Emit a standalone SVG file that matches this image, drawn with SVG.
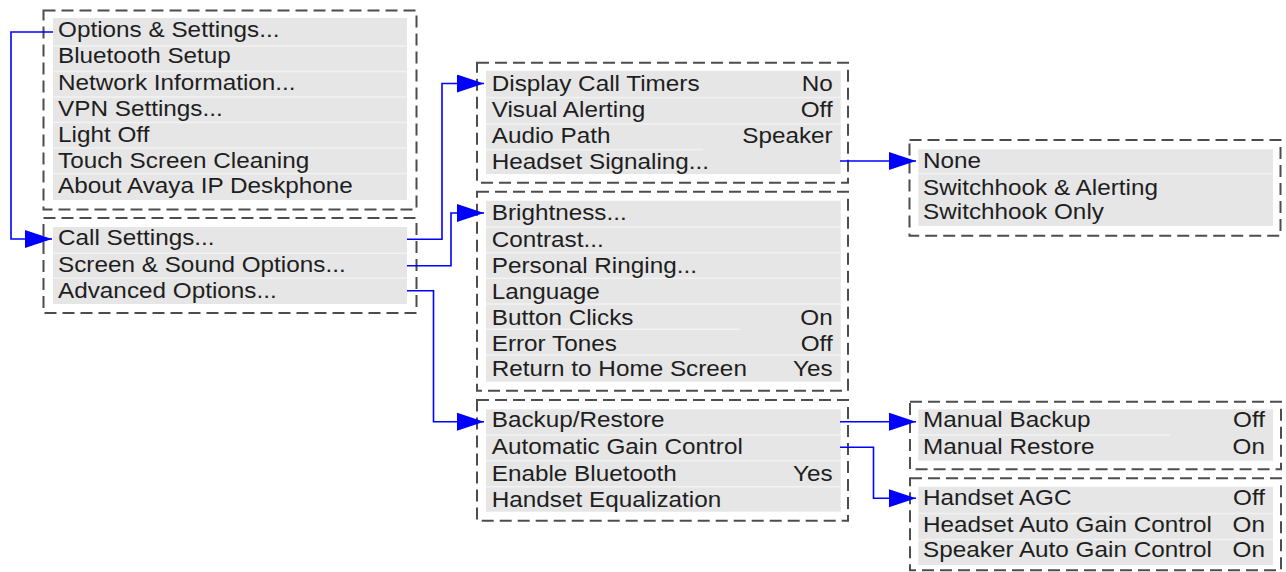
<svg xmlns="http://www.w3.org/2000/svg" width="1286" height="572" viewBox="0 0 1286 572">
<style>
.frame{fill:none;stroke:#4d4d4d;stroke-width:2;stroke-dasharray:12 6}
.panel{fill:#e6e6e6}
.sep{stroke:#f2f2f2;stroke-width:1.5}
text{font-family:"Liberation Sans",Arial,sans-serif;font-size:21.5px;fill:#1e1e1e}
.r{text-anchor:end}
.conn{fill:none;stroke:#0000ff;stroke-width:1.6;marker-end:url(#arr)}
</style>
<defs>
<marker id="arr" markerUnits="userSpaceOnUse" markerWidth="28" markerHeight="20" refX="27" refY="9" orient="auto">
<path d="M0,0 L27,9 L0,18 z" fill="#0000ff"/>
</marker>
</defs>
<rect width="1286" height="572" fill="#ffffff"/>

<g id="options-menu">
<rect class="panel" x="53" y="18" width="354" height="182"/>
<path class="sep" d="M53,46H407M53,71.5H407M53,97H407M53,122.5H407M53,148H407M53,173.5H407"/>
<rect class="frame" x="43.5" y="10.5" width="373" height="199"/>
<text transform="translate(58,37) scale(1.13,1)">Options &amp; Settings...</text>
<text transform="translate(58,63) scale(1.13,1)">Bluetooth Setup</text>
<text transform="translate(58,89.5) scale(1.13,1)">Network Information...</text>
<text transform="translate(58,115.5) scale(1.13,1)">VPN Settings...</text>
<text transform="translate(58,141.5) scale(1.13,1)">Light Off</text>
<text transform="translate(58,167.5) scale(1.13,1)">Touch Screen Cleaning</text>
<text transform="translate(58,193) scale(1.13,1)">About Avaya IP Deskphone</text>
</g>

<g id="options-settings">
<rect class="panel" x="53" y="227" width="354" height="77"/>
<path class="sep" d="M53,253.3H407M53,278.3H407"/>
<rect class="frame" x="43.5" y="218" width="373" height="95"/>
<text transform="translate(58,245) scale(1.13,1)">Call Settings...</text>
<text transform="translate(58,271.5) scale(1.13,1)">Screen &amp; Sound Options...</text>
<text transform="translate(58,298) scale(1.13,1)">Advanced Options...</text>
</g>

<g id="call-settings">
<rect class="panel" x="486" y="70.7" width="354.7" height="103.3"/>
<path class="sep" d="M486,97.5H840.7M486,124H840.7M486,149.5H703"/>
<rect class="frame" x="477" y="62.7" width="371" height="120"/>
<text transform="translate(491.7,90.7) scale(1.13,1)">Display Call Timers</text>
<text class="r" transform="translate(832.7,90.7) scale(1.13,1)">No</text>
<text transform="translate(491.7,116.7) scale(1.13,1)">Visual Alerting</text>
<text class="r" transform="translate(832.7,116.7) scale(1.13,1)">Off</text>
<text transform="translate(491.7,143) scale(1.13,1)">Audio Path</text>
<text class="r" transform="translate(832.7,143) scale(1.13,1)">Speaker</text>
<text transform="translate(491.7,169.3) scale(1.13,1)">Headset Signaling...</text>
</g>

<g id="screen-sound">
<rect class="panel" x="486" y="200.7" width="354.7" height="181"/>
<path class="sep" d="M486,227H840.7M486,252.7H840.7M486,278.3H840.7M486,304H840.7M486,329.3H740M486,355H840.7"/>
<rect class="frame" x="477" y="191.7" width="371" height="199"/>
<text transform="translate(491.7,220) scale(1.13,1)">Brightness...</text>
<text transform="translate(491.7,246.5) scale(1.13,1)">Contrast...</text>
<text transform="translate(491.7,273) scale(1.13,1)">Personal Ringing...</text>
<text transform="translate(491.7,298.5) scale(1.13,1)">Language</text>
<text transform="translate(491.7,325) scale(1.13,1)">Button Clicks</text>
<text class="r" transform="translate(832.7,325) scale(1.13,1)">On</text>
<text transform="translate(491.7,350.5) scale(1.13,1)">Error Tones</text>
<text class="r" transform="translate(832.7,350.5) scale(1.13,1)">Off</text>
<text transform="translate(491.7,376) scale(1.13,1)">Return to Home Screen</text>
<text class="r" transform="translate(832.7,376) scale(1.13,1)">Yes</text>
</g>

<g id="advanced-options">
<rect class="panel" x="486" y="409.3" width="354.7" height="102.4"/>
<path class="sep" d="M486,435H840.7M486,460.7H840.7M486,486.7H840.7"/>
<rect class="frame" x="477" y="400" width="371" height="120.7"/>
<text transform="translate(491.7,426.7) scale(1.13,1)">Backup/Restore</text>
<text transform="translate(491.7,454) scale(1.13,1)">Automatic Gain Control</text>
<text transform="translate(491.7,480.7) scale(1.13,1)">Enable Bluetooth</text>
<text class="r" transform="translate(832.7,480.7) scale(1.13,1)">Yes</text>
<text transform="translate(491.7,506.7) scale(1.13,1)">Handset Equalization</text>
</g>

<g id="headset-signaling">
<rect class="panel" x="918.3" y="149.3" width="354.7" height="76.7"/>
<path class="sep" d="M918.3,173.5H1273"/>
<rect class="frame" x="909.5" y="140" width="371" height="95.7"/>
<text transform="translate(923,168.3) scale(1.13,1)">None</text>
<text transform="translate(923,194.5) scale(1.13,1)">Switchhook &amp; Alerting</text>
<text transform="translate(923,219) scale(1.13,1)">Switchhook Only</text>
</g>

<g id="backup-restore">
<rect class="panel" x="918.3" y="409.3" width="354.7" height="51.4"/>
<path class="sep" d="M918.3,435H1170"/>
<rect class="frame" x="910" y="401.7" width="371" height="67.6"/>
<text transform="translate(923,426.7) scale(1.13,1)">Manual Backup</text>
<text class="r" transform="translate(1265,426.7) scale(1.13,1)">Off</text>
<text transform="translate(923,454) scale(1.13,1)">Manual Restore</text>
<text class="r" transform="translate(1265,454) scale(1.13,1)">On</text>
</g>

<g id="automatic-gain-control">
<rect class="panel" x="918.3" y="486.7" width="354.7" height="78.3"/>
<path class="sep" d="M918.3,513.5H1273M918.3,539.5H1273"/>
<rect class="frame" x="910" y="478.3" width="371" height="92"/>
<text transform="translate(923,505) scale(1.13,1)">Handset AGC</text>
<text class="r" transform="translate(1265,505) scale(1.13,1)">Off</text>
<text transform="translate(923,531.7) scale(1.13,1)">Headset Auto Gain Control</text>
<text class="r" transform="translate(1265,531.7) scale(1.13,1)">On</text>
<text transform="translate(923,556.7) scale(1.13,1)">Speaker Auto Gain Control</text>
<text class="r" transform="translate(1265,556.7) scale(1.13,1)">On</text>
</g>

<g id="connectors">
<path class="conn" d="M53,32H11V239H52" stroke="#4d4dff"/>
<path class="conn" d="M407,239.3H442V83.5H484"/>
<path class="conn" d="M407,265.7H451V213H484"/>
<path class="conn" d="M407,290.7H433.5V421.7H484"/>
<path class="conn" d="M840,161H916"/>
<path class="conn" d="M840,421.7H916"/>
<path class="conn" d="M840,447.3H873.5V498.3H916"/>
</g>
</svg>
